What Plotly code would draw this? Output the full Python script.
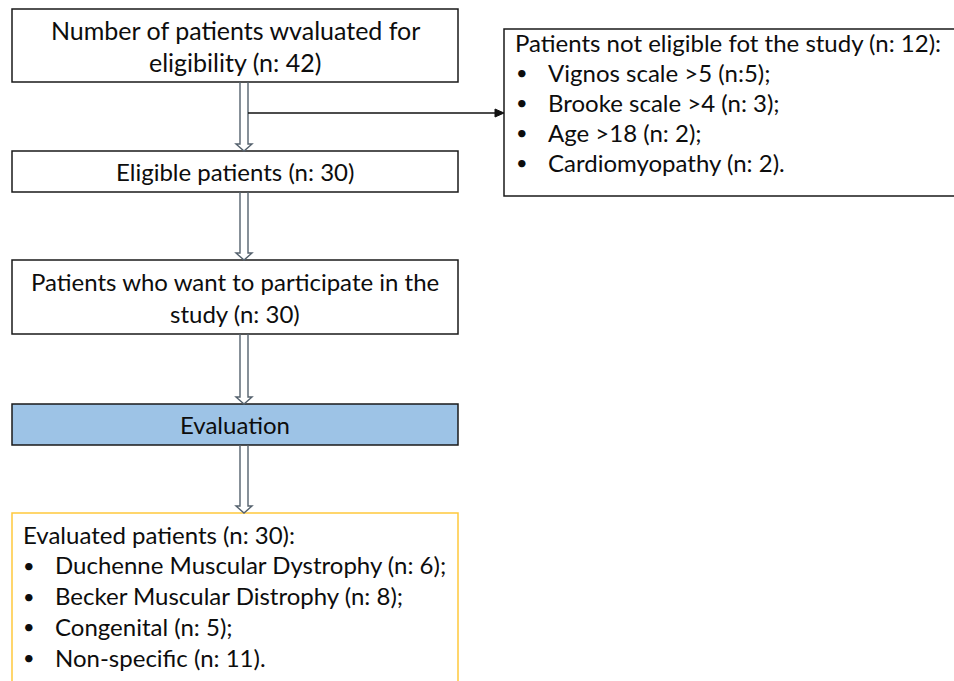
import plotly.graph_objects as go

# ---- content (data) ----
box1_lines = ["Number of patients wvaluated for", "eligibility (n: 42)"]
box2_lines = ["Eligible patients (n: 30)"]
box3_lines = ["Patients who want to participate in the", "study (n: 30)"]
box4_lines = ["Evaluation"]
excl_title = "Patients not eligible fot the study (n: 12):"
excl_items = ["Vignos scale >5 (n:5);", "Brooke scale >4 (n: 3);", "Age >18 (n: 2);", "Cardiomyopathy (n: 2)."]
eval_title = "Evaluated patients (n: 30):"
eval_items = ["Duchenne Muscular Dystrophy (n: 6);", "Becker Muscular Distrophy (n: 8);",
              "Congenital (n: 5);", "Non-specific (n: 11)."]

# ---- layout geometry (pixel-like axis units) ----
W, H = 954, 681
FONT = "Lato"
FS = 24
left_x0, left_x1 = 12, 458
cx = (left_x0 + left_x1) / 2
main_boxes = [
    dict(lines=box1_lines, y0=9, y1=82, fill="white", border="#1a1a1a", fs=25),
    dict(lines=box2_lines, y0=151, y1=192, fill="white", border="#1a1a1a", fs=FS),
    dict(lines=box3_lines, y0=260, y1=334, fill="white", border="#1a1a1a", fs=FS),
    dict(lines=box4_lines, y0=404, y1=445, fill="#9dc3e6", border="#1a1a1a", fs=FS),
]
eval_box = dict(y0=513, y1=700, border="#ffc93c")
excl_box = dict(x0=504, x1=970, y0=29, y1=196)
arrow_x = 244

shapes = []
annotations = []

def add_text(x, y, text, anchor="center", size=FS):
    annotations.append(dict(x=x, y=y, xref="x", yref="y", text=text, showarrow=False,
                            xanchor=anchor, yanchor="middle",
                            font=dict(family=FONT, size=size, color="#0d0d0d")))

for b in main_boxes:
    shapes.append(dict(type="rect", xref="x", yref="y", x0=left_x0, x1=left_x1, y0=b["y0"], y1=b["y1"],
                       fillcolor=b["fill"], line=dict(color=b["border"], width=1.5), layer="below"))
    n = len(b["lines"])
    ymid = (b["y0"] + b["y1"]) / 2
    for i, t in enumerate(b["lines"]):
        add_text(cx, ymid + (i - (n - 1) / 2) * 32, t, size=b["fs"])

# exclusion box
shapes.append(dict(type="rect", xref="x", yref="y", x0=excl_box["x0"], x1=excl_box["x1"],
                   y0=excl_box["y0"], y1=excl_box["y1"], fillcolor="white",
                   line=dict(color="#1a1a1a", width=1.5), layer="below"))
ey = 42
add_text(513, ey, excl_title, anchor="left")
for i, t in enumerate(excl_items):
    yy = ey + (i + 1) * 30
    add_text(514, yy, "•", anchor="left", size=20)
    add_text(546, yy, t, anchor="left")

# evaluated box
shapes.append(dict(type="rect", xref="x", yref="y", x0=left_x0, x1=left_x1,
                   y0=eval_box["y0"], y1=eval_box["y1"], fillcolor="white",
                   line=dict(color=eval_box["border"], width=1.5), layer="below"))
by = 534
add_text(21, by, eval_title, anchor="left")
for i, t in enumerate(eval_items):
    yy = by + (i + 1) * 30.8
    add_text(21, yy, "•", anchor="left", size=20)
    add_text(53, yy, t, anchor="left")

# double (hollow) arrows between main boxes
targets = [(82, 151), (192, 260), (334, 404), (445, 513)]
for y0, y1 in targets:
    a, b2 = arrow_x - 4, arrow_x + 4
    hy = y1 - 7
    path = (f"M {a},{y0} L {a},{hy} L {a-4},{hy} L {arrow_x},{y1} L {b2+4},{hy} "
            f"L {b2},{hy} L {b2},{y0}")
    shapes.append(dict(type="path", xref="x", yref="y", path=path,
                       line=dict(color="#55626e", width=1.4), fillcolor="rgba(0,0,0,0)"))

# horizontal arrow to exclusion box
shapes.append(dict(type="line", xref="x", yref="y", x0=arrow_x + 4, x1=496, y0=113, y1=113,
                   line=dict(color="#111111", width=1.5)))
shapes.append(dict(type="path", xref="x", yref="y", path="M 495,109 L 504,113 L 495,117 Z",
                   fillcolor="#111111", line=dict(color="#111111", width=1)))

fig = go.Figure()
fig.add_trace(go.Scatter(x=[0, W], y=[0, H], mode="markers", marker=dict(opacity=0),
                         hoverinfo="skip", showlegend=False))
fig.update_layout(
    width=W, height=H, margin=dict(l=0, r=0, t=0, b=0),
    paper_bgcolor="white", plot_bgcolor="white",
    xaxis=dict(range=[0, W], visible=False, fixedrange=True),
    yaxis=dict(range=[H, 0], visible=False, fixedrange=True),
    shapes=shapes, annotations=annotations, showlegend=False,
)
fig.write_html("out.html", config={"displayModeBar": False},
               post_script="document.body.style.margin='0px';document.body.style.overflow='hidden';")
